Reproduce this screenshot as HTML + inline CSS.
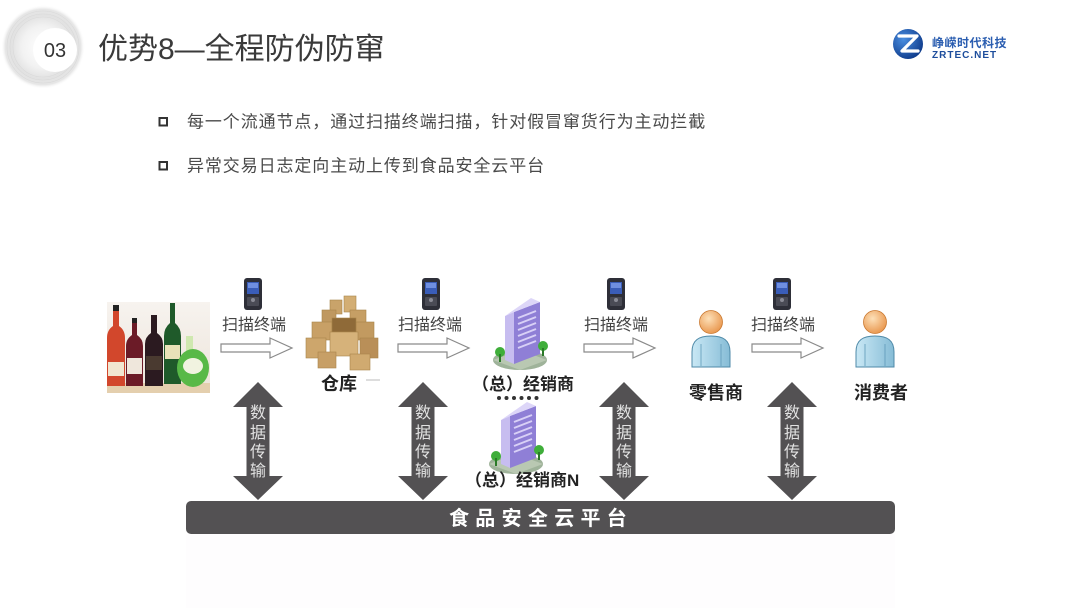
<!DOCTYPE html>
<html><head><meta charset="utf-8">
<style>
html,body{margin:0;padding:0;background:#fff;}
body{width:1080px;height:608px;overflow:hidden;}
svg text{font-family:"Liberation Sans","Noto Sans CJK SC",sans-serif;}
</style></head>
<body>
<svg width="1080" height="608" viewBox="0 0 1080 608" xmlns="http://www.w3.org/2000/svg">
<defs>
<radialGradient id="halo" cx="0.5" cy="0.5" r="0.5">
<stop offset="0" stop-color="#ffffff"/>
<stop offset="0.5" stop-color="#f2f2f2"/>
<stop offset="0.75" stop-color="#e2e2e2"/>
<stop offset="0.9" stop-color="#e6e6e6"/>
<stop offset="1" stop-color="#ffffff" stop-opacity="0"/>
</radialGradient>
<radialGradient id="logo" cx="0.35" cy="0.35" r="0.7">
<stop offset="0" stop-color="#4a8ee0"/>
<stop offset="1" stop-color="#0f3c8c"/>
</radialGradient>
<linearGradient id="wineBg" x1="0" y1="0" x2="0" y2="1">
<stop offset="0" stop-color="#f7f3ef"/>
<stop offset="1" stop-color="#ece4da"/>
</linearGradient>
<radialGradient id="head" cx="0.4" cy="0.35" r="0.7">
<stop offset="0" stop-color="#fde0b8"/>
<stop offset="1" stop-color="#e8944a"/>
</radialGradient>
<linearGradient id="body" x1="0" y1="0" x2="1" y2="0">
<stop offset="0" stop-color="#c9e8f5"/>
<stop offset="1" stop-color="#86bcd6"/>
</linearGradient>
<g id="phone">
<rect x="-9" y="0" width="18" height="32" rx="3" fill="#2e2f38"/>
<rect x="-6" y="4" width="12" height="12" fill="#3a5db8"/>
<rect x="-5" y="5" width="10" height="5" fill="#6f8fe0"/>
<rect x="-6" y="19" width="12" height="9" rx="1" fill="#4a4b55"/>
<circle cx="0" cy="22" r="2" fill="#8a8b95"/>
</g>
<g id="hollow">
<path d="M0,6 H49 V0 L71,10 L49,20 V14 H0 Z" fill="#fff" stroke="#8a8a8a" stroke-width="1.2"/>
</g>
<g id="dbl">
<path d="M0,0 L25,25 H11.5 V94 H25 L0,118 L-25,94 H-11.5 V25 H-25 Z" fill="#535153"/>
<text x="0" y="418" font-size="16" fill="#e2e2e2" text-anchor="middle" transform="translate(0,-382)">数</text>
<text x="0" y="438" font-size="16" fill="#e2e2e2" text-anchor="middle" transform="translate(0,-382)">据</text>
<text x="0" y="457" font-size="16" fill="#e2e2e2" text-anchor="middle" transform="translate(0,-382)">传</text>
<text x="0" y="476" font-size="16" fill="#e2e2e2" text-anchor="middle" transform="translate(0,-382)">输</text>
</g>
<g id="bld">
<ellipse cx="0" cy="52" rx="27" ry="10" fill="#9fb39a"/>
<path d="M-27,52 L0,42 L27,52 L0,62 Z" fill="#b9c8b2"/>
<polygon points="-15,8 -6,4 -6,56 -15,52" fill="#c7bdf0"/>
<polygon points="-6,4 20,-6 20,46 -6,56" fill="#8f7fd6"/>
<polygon points="-15,8 -6,4 20,-6 11,-10" fill="#ddd6f8"/>
<g stroke="#d8d0f6" stroke-width="2">
<line x1="-2" y1="10" x2="16" y2="3"/>
<line x1="-2" y1="16" x2="16" y2="9"/>
<line x1="-2" y1="22" x2="16" y2="15"/>
<line x1="-2" y1="28" x2="16" y2="21"/>
<line x1="-2" y1="34" x2="16" y2="27"/>
<line x1="-2" y1="40" x2="16" y2="33"/>
</g>
<circle cx="-20" cy="44" r="5" fill="#3fae3a"/>
<rect x="-21" y="46" width="2" height="8" fill="#2b7a28"/>
<circle cx="23" cy="38" r="5" fill="#3fae3a"/>
<rect x="22" y="40" width="2" height="8" fill="#2b7a28"/>
</g>
<g id="person">
<path d="M-19,57 V42 C-19,30 -12,26 0,26 C12,26 19,30 19,42 V57 Z" fill="url(#body)" stroke="#4f8aa8" stroke-width="1"/>
<path d="M-10,34 V56 M10,34 V56" stroke="#5e9ab8" stroke-width="0.8" fill="none"/>
<circle cx="0" cy="12" r="11.5" fill="url(#head)" stroke="#c9782f" stroke-width="0.8"/>
</g>
</defs>

<!-- header halo -->
<circle cx="43" cy="47" r="42" fill="url(#halo)"/>
<g fill="none" stroke="#d4d4d4" stroke-width="0.6" opacity="0.7">
<circle cx="43" cy="47" r="30"/>
<circle cx="43" cy="47" r="33"/>
<circle cx="43" cy="47" r="36"/>
</g>
<circle cx="55" cy="50" r="22" fill="#ffffff"/>
<text x="55" y="57" font-size="20" fill="#333" text-anchor="middle">03</text>
<text x="98" y="59" font-size="30" fill="#3a3a3a">优势8—全程防伪防窜</text>

<!-- logo -->
<circle cx="908" cy="44" r="15" fill="url(#logo)"/>
<path d="M899,36 H917 L902,51 H918" fill="none" stroke="#fff" stroke-width="3.2" stroke-linejoin="round" stroke-linecap="round"/>
<text x="932" y="47" font-size="12" font-weight="bold" fill="#2a5db0" letter-spacing="0.5">峥嵘时代科技</text>
<text x="932" y="58" font-size="10" font-weight="bold" fill="#1d4d9c" letter-spacing="1">ZRTEC.NET</text>

<!-- bullets -->
<rect x="159.5" y="118" width="7.5" height="7.5" fill="none" stroke="#333" stroke-width="2"/>
<text x="187" y="127.5" font-size="17" fill="#4a4a4a" letter-spacing="0.9">每一个流通节点，通过扫描终端扫描，针对假冒窜货行为主动拦截</text>
<rect x="159.5" y="162" width="7.5" height="7.5" fill="none" stroke="#333" stroke-width="2"/>
<text x="187" y="171.5" font-size="17" fill="#4a4a4a" letter-spacing="0.9">异常交易日志定向主动上传到食品安全云平台</text>

<!-- faint panel below bar -->
<rect x="186" y="534" width="709" height="74" fill="#fefdfe"/>

<!-- wine bottles -->
<rect x="107" y="302" width="103" height="91" fill="url(#wineBg)"/>
<rect x="107" y="383" width="103" height="10" fill="#e4cfae"/>
<path d="M113,305 H119 V326 Q125,330 125,338 V386 H107 V338 Q107,330 113,326 Z" fill="#d2472c"/>
<rect x="108" y="362" width="16" height="14" fill="#f1e6d0"/>
<rect x="113" y="305" width="6" height="6" fill="#222"/>
<path d="M132,318 H137 V335 Q143,339 143,346 V386 H126 V346 Q126,339 132,335 Z" fill="#6b1b27"/>
<rect x="127" y="358" width="15" height="16" fill="#efe7dc"/>
<rect x="132" y="318" width="5" height="5" fill="#222"/>
<path d="M151,315 H157 V333 Q163,337 163,344 V386 H145 V344 Q145,337 151,333 Z" fill="#2b1a20"/>
<rect x="146" y="356" width="16" height="14" fill="#4a3a30"/>
<path d="M170,303 H175 V323 Q181,328 181,336 V384 H164 V336 Q164,328 170,323 Z" fill="#1f5a2a"/>
<rect x="165" y="345" width="15" height="14" fill="#e9e2b8"/>
<rect x="186" y="336" width="7" height="16" fill="#cfe8b0"/>
<ellipse cx="193" cy="368" rx="16" ry="19" fill="#58b947"/>
<ellipse cx="193" cy="366" rx="10" ry="8" fill="#f1f3e0"/>

<!-- boxes (warehouse) -->
<g stroke="#a8844a" stroke-width="0.6">
<rect x="330" y="300" width="12" height="14" fill="#c9a36a"/>
<rect x="344" y="296" width="12" height="16" fill="#d3ae74"/>
<rect x="322" y="310" width="14" height="14" fill="#bf9860"/>
<rect x="350" y="310" width="16" height="14" fill="#c69f65"/>
<rect x="312" y="322" width="20" height="18" fill="#c8a066"/>
<rect x="356" y="322" width="18" height="18" fill="#c29a60"/>
<rect x="332" y="318" width="24" height="14" fill="#8f6a38"/>
<rect x="330" y="332" width="28" height="24" fill="#d6b27a"/>
<rect x="306" y="338" width="20" height="20" fill="#cda66c"/>
<rect x="360" y="338" width="18" height="20" fill="#b98f58"/>
<rect x="318" y="352" width="18" height="16" fill="#c79f66"/>
<rect x="350" y="354" width="20" height="16" fill="#d0aa70"/>
</g>
<line x1="366" y1="380" x2="380" y2="380" stroke="#bbb" stroke-width="1"/>

<!-- buildings -->
<use href="#bld" x="520" y="308"/>
<use href="#bld" x="516" y="412"/>

<!-- people -->
<use href="#person" x="711" y="310"/>
<use href="#person" x="875" y="310"/>

<!-- phones -->
<use href="#phone" x="253" y="278"/>
<use href="#phone" x="431" y="278"/>
<use href="#phone" x="616" y="278"/>
<use href="#phone" x="782" y="278"/>

<!-- scan labels -->
<text x="222" y="330" font-size="16" fill="#444">扫描终端</text>
<text x="398" y="330" font-size="16" fill="#444">扫描终端</text>
<text x="584" y="330" font-size="16" fill="#444">扫描终端</text>
<text x="751" y="330" font-size="16" fill="#444">扫描终端</text>

<!-- hollow arrows -->
<use href="#hollow" x="221" y="338"/>
<use href="#hollow" x="398" y="338"/>
<use href="#hollow" x="584" y="338"/>
<use href="#hollow" x="752" y="338"/>

<!-- node labels -->
<text x="339" y="390" font-size="18" font-weight="bold" fill="#222" text-anchor="middle">仓库</text>
<text x="472" y="390" font-size="17" font-weight="bold" fill="#222">（总）经销商</text>
<g fill="#333">
<circle cx="499" cy="398" r="2"/><circle cx="506.5" cy="398" r="2"/><circle cx="514" cy="398" r="2"/>
<circle cx="521.5" cy="398" r="2"/><circle cx="529" cy="398" r="2"/><circle cx="536.5" cy="398" r="2"/>
</g>
<text x="465" y="486" font-size="17" font-weight="bold" fill="#222">（总）经销商N</text>
<text x="716" y="399" font-size="18" font-weight="bold" fill="#222" text-anchor="middle">零售商</text>
<text x="881" y="399" font-size="18" font-weight="bold" fill="#222" text-anchor="middle">消费者</text>

<!-- double arrows -->
<use href="#dbl" x="258" y="382"/>
<use href="#dbl" x="423" y="382"/>
<use href="#dbl" x="624" y="382"/>
<use href="#dbl" x="792" y="382"/>

<!-- platform bar -->
<rect x="186" y="501" width="709" height="33" rx="5" fill="#535153"/>
<text x="449" y="525" font-size="20" font-weight="bold" fill="#ffffff" letter-spacing="6.3">食品安全云平台</text>
</svg>
</body></html>
